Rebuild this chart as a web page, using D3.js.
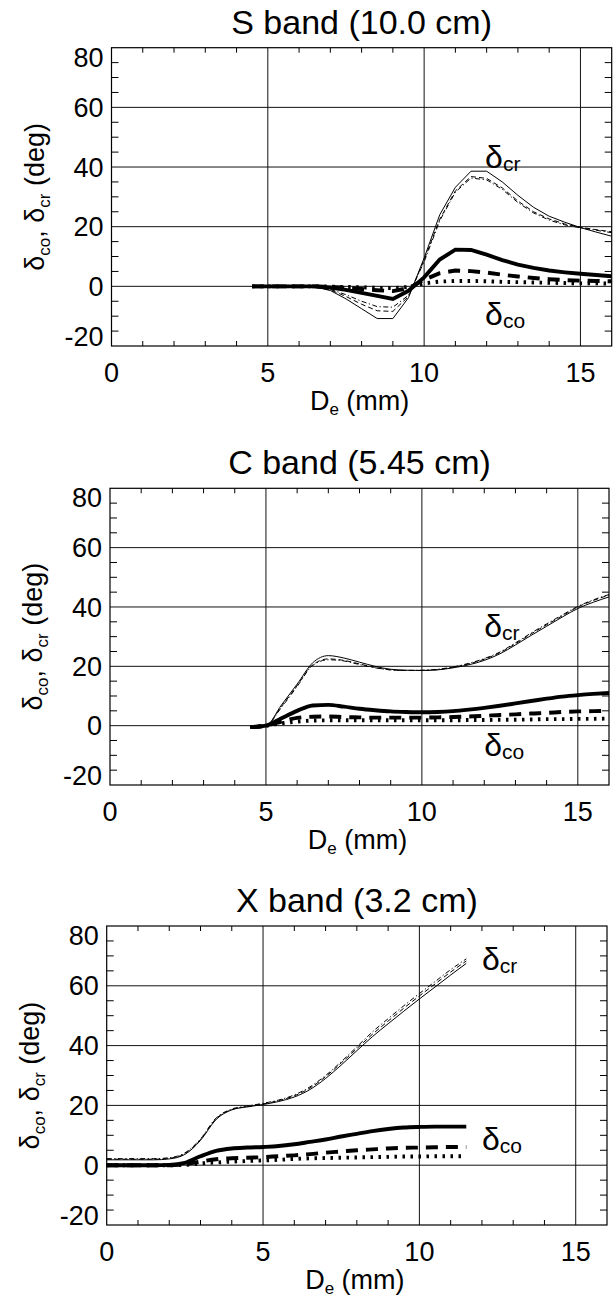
<!DOCTYPE html>
<html>
<head>
<meta charset="utf-8">
<script src="https://cdn.jsdelivr.net/npm/d3@7"></script>
<style>
  body { margin: 0; background: #fff; }
  text { font-family: "Liberation Sans", Arial, Helvetica, sans-serif; fill: #000; }
</style>
</head>
<body>
<script>
// ---- data ----
var bandTitles = ["S band (10.0 cm)", "C band (5.45 cm)", "X band (3.2 cm)"];
var xTicks = [0, 5, 10, 15];
var yTicks = [-20, 0, 20, 40, 60, 80];

// S band
var diamS = [4.5,5,5.5,6,6.5,7,7.5,8,8.5,9,9.5,10,10.5,11,11.5,12,12.5,13,13.5,14,14.5,15,15.5,16];
var crSolidS = [0,0,0,0,-0.2,-1.4,-4.2,-7.5,-10.8,-10.8,-3.8,9.5,24,33.2,38.6,38.6,35,30.5,26.5,23.5,21.5,19.7,18.2,16.8];
var crDashS = [0,0,0,0,-0.2,-1.2,-3.4,-6,-8.2,-8.4,-3.4,8.8,22.5,32,36.8,36.2,33,28.6,25,22.6,20.9,19.8,19,18.3];
var crDotDashS = [0,0,0,0,-0.1,-1,-2.8,-5,-6.8,-7,-3,8.2,22,31.6,36.3,35.7,32.5,28.1,24.6,22.2,20.6,19.6,18.8,18];
var coSolidS = [0,0,0,0,0,-0.4,-1.2,-2.2,-3.2,-4.2,-1.5,3,9,12.3,12.2,10.6,8.8,7.3,6.2,5.3,4.7,4.2,3.8,3.4];
var coDashS = [0,0,0,0,0,-0.2,-0.5,-0.9,-1.3,-1.6,-0.6,2.2,4.4,5.3,5.1,4.6,3.9,3.3,2.8,2.4,2.1,1.9,1.8,1.7];
var coDotS = [0,0,0,0,0,-0.1,-0.2,-0.3,-0.5,-0.6,-0.2,1,1.6,1.8,1.8,1.7,1.5,1.4,1.3,1.2,1.1,1,1,0.9];

// C band
var diamC = [4.5,5,5.5,6,6.5,7,7.5,8,8.5,9,9.5,10,10.5,11,11.5,12,12.5,13,13.5,14,14.5,15,15.5,16];
var crSolidC = [-0.5,0,7,14,21.2,23.6,22.8,21.4,20,19,18.7,18.6,18.8,19.5,20.5,22,24.2,27.2,30.4,33.5,36.6,39.5,41.6,43.4];
var crDashC = [-0.5,0,6.5,13.5,20.5,22.5,22,20.8,19.6,18.8,18.6,18.6,18.9,19.7,20.8,22.4,24.6,27.6,30.9,34,37,40,42.2,44];
var crDotDashC = [-0.5,0,6.2,13.2,20.3,22.2,21.8,20.6,19.5,18.8,18.6,18.7,19,19.8,21,22.6,24.8,27.9,31.2,34.3,37.3,40.2,42.4,44.2];
var coSolidC = [-0.5,0,2.5,5,6.8,7,6.4,5.7,5.2,4.8,4.6,4.5,4.6,4.9,5.4,6,6.7,7.5,8.3,9.1,9.8,10.3,10.7,11];
var coDashC = [-0.5,0,1.4,2.6,3,3.1,2.9,2.8,2.7,2.7,2.7,2.7,2.8,2.9,3.1,3.3,3.6,3.8,4.1,4.3,4.6,4.8,4.9,5];
var coDotC = [-0.5,0,0.8,1.4,1.7,1.8,1.8,1.8,1.8,1.8,1.8,1.8,1.8,1.8,1.9,1.9,2,2,2.1,2.2,2.2,2.3,2.3,2.4];

// X band
var diamX = [0,0.5,1,1.5,2,2.5,3,3.5,4,4.5,5,5.5,6,6.5,7,7.5,8,8.5,9,9.5,10,10.5,11,11.5];
var crSolidX = [1.8,1.8,1.8,1.8,2.1,3.6,8.3,15.3,18.5,19.5,20.3,21.3,22.8,25.3,29,33.5,38.3,43,47.3,51.5,55.6,59.6,63.6,67.5];
var crDashX = [2,2,2,2,2.3,3.9,8.6,15.6,18.6,19.6,20.5,21.6,23.2,25.8,29.6,34.2,39,43.8,48.2,52.5,56.6,60.6,64.6,68.3];
var crDotDashX = [2.2,2.2,2.2,2.2,2.5,4.1,8.8,15.8,18.8,19.8,20.7,21.8,23.5,26.2,30,34.6,39.6,44.6,49,53.3,57.4,61.4,65.4,69];
var coSolidX = [0,0,0,0,0.1,0.8,3,4.8,5.6,5.9,6.1,6.4,7,7.8,8.6,9.6,10.5,11.4,12.1,12.6,12.8,12.9,12.9,12.9];
var coDashX = [0,0,0,0,0,0.3,1.2,2,2.3,2.5,2.7,3,3.3,3.7,4.2,4.6,5,5.3,5.6,5.8,5.9,6,6.1,6.1];
var coDotX = [0,0,0,0,0,0.1,0.6,0.9,1.2,1.4,1.6,1.8,2.1,2.3,2.4,2.5,2.6,2.7,2.8,2.9,2.9,3,3,3];

// label anchors (diameter, degrees) for the delta annotations
var crLabelAt = [[11.95, 39.6], [12.0, 29.8], [12.0, 65.2]];
var coLabelAt = [[11.95, -13.1], [12.0, -10.1], [12.0, 5.0]];

// ---- layout ----
var width = 616, height = 1300;
var boxes = [
  {left: 111.5, right: 611.7, top: 47.7, bottom: 346},
  {left: 110, right: 609, top: 488.3, bottom: 785},
  {left: 106.7, right: 607, top: 926, bottom: 1225}
];

var panels = [
  {x: diamS, series: [crSolidS, crDashS, crDotDashS, coSolidS, coDashS, coDotS]},
  {x: diamC, series: [crSolidC, crDashC, crDotDashC, coSolidC, coDashC, coDotC]},
  {x: diamX, series: [crSolidX, crDashX, crDotDashX, coSolidX, coDashX, coDotX]}
];

// line styles: thin solid / thin dashed / thin dash-dot / thick solid / thick dashed / thick dotted
var styles = [
  {w: 1, dash: null},
  {w: 1, dash: "5,3"},
  {w: 1, dash: "5,2.5,1.2,2.5"},
  {w: 3.9, dash: null},
  {w: 3.9, dash: "12,8"},
  {w: 3.9, dash: "2.5,5.5"}
];

var svg = d3.select("body").append("svg")
    .attr("width", width)
    .attr("height", height);

svg.append("rect")
    .attr("width", width)
    .attr("height", height)
    .attr("fill", "#fff");

boxes.forEach(function(b, i) {
  var x = d3.scaleLinear().domain([0, 16]).range([b.left, b.right]);
  var y = d3.scaleLinear().domain([-20, 80]).range([b.bottom, b.top]);
  var g = svg.append("g");

  // grid lines at major ticks
  g.selectAll(".vgrid").data([5, 10, 15]).enter().append("line")
      .attr("x1", d => x(d)).attr("x2", d => x(d))
      .attr("y1", b.top).attr("y2", b.bottom)
      .style("stroke", "#111").style("stroke-width", 1);
  g.selectAll(".hgrid").data([0, 20, 40, 60]).enter().append("line")
      .attr("x1", b.left).attr("x2", b.right)
      .attr("y1", d => y(d)).attr("y2", d => y(d))
      .style("stroke", "#111").style("stroke-width", 1);

  // minor ticks
  var xm = d3.range(1, 16).filter(d => d % 5 != 0);
  g.selectAll(".xmb").data(xm).enter().append("line")
      .attr("x1", d => x(d)).attr("x2", d => x(d))
      .attr("y1", b.bottom).attr("y2", b.bottom - 5)
      .style("stroke", "#000");
  g.selectAll(".xmt").data(xm).enter().append("line")
      .attr("x1", d => x(d)).attr("x2", d => x(d))
      .attr("y1", b.top).attr("y2", b.top + 5)
      .style("stroke", "#000");
  var ym = d3.range(-15, 80, 5).filter(d => d % 20 != 0);
  g.selectAll(".yml").data(ym).enter().append("line")
      .attr("x1", b.left).attr("x2", b.left + 7)
      .attr("y1", d => y(d)).attr("y2", d => y(d))
      .style("stroke", "#000");
  g.selectAll(".ymr").data(ym).enter().append("line")
      .attr("x1", b.right).attr("x2", b.right - 7)
      .attr("y1", d => y(d)).attr("y2", d => y(d))
      .style("stroke", "#000");

  // frame
  g.append("rect")
      .attr("x", b.left).attr("y", b.top)
      .attr("width", b.right - b.left).attr("height", b.bottom - b.top)
      .attr("fill", "none").style("stroke", "#000").style("stroke-width", 1.2);

  // curves
  var p = panels[i];
  var line = d3.line()
      .x((d, k) => x(p.x[k]))
      .y(d => y(d))
      .curve(i == 0 ? d3.curveLinear : d3.curveMonotoneX);
  p.series.forEach(function(s, k) {
    g.append("path")
        .attr("d", line(s))
        .attr("fill", "none")
        .style("stroke", "#000")
        .style("stroke-width", styles[k].w)
        .style("stroke-dasharray", styles[k].dash);
  });

  // tick labels
  g.selectAll(".xl").data(xTicks).enter().append("text")
      .attr("x", d => x(d)).attr("y", b.bottom + 36)
      .attr("text-anchor", "middle")
      .style("font-size", "27px")
      .text(d => d);
  g.selectAll(".yl").data(yTicks).enter().append("text")
      .attr("x", b.left - 8)
      .attr("y", function(d) {
        if (d == 80) return b.top + 19;
        if (d == -20) return b.bottom;
        return y(d) + 9.6;
      })
      .attr("text-anchor", "end")
      .style("font-size", "27px")
      .text(d => d);

  // title
  g.append("text")
      .attr("x", (b.left + b.right) / 2)
      .attr("y", b.top - 14)
      .attr("text-anchor", "middle")
      .style("font-size", "34px")
      .text(bandTitles[i]);

  // x axis title
  var xt = g.append("text")
      .attr("x", (b.left + b.right) / 2 - 2)
      .attr("y", b.bottom + 64)
      .attr("text-anchor", "middle")
      .style("font-size", "27px");
  xt.append("tspan").text("D");
  xt.append("tspan").attr("dy", 5).style("font-size", "17px").text("e");
  xt.append("tspan").attr("dy", -5).text(" (mm)");

  // y axis title
  var yt = g.append("text")
      .attr("transform", "translate(" + (b.left - 68) + "," + ((b.top + b.bottom) / 2) + ") rotate(-90)")
      .attr("text-anchor", "middle")
      .style("font-size", "27px");
  yt.append("tspan").text("\u03b4");
  yt.append("tspan").attr("dy", 6).style("font-size", "17px").text("co");
  yt.append("tspan").attr("dy", -6).text(", \u03b4");
  yt.append("tspan").attr("dy", 6).style("font-size", "17px").text("cr");
  yt.append("tspan").attr("dy", -6).text(" (deg)");

  // delta annotations
  [[crLabelAt[i], "cr"], [coLabelAt[i], "co"]].forEach(function(a) {
    var t = g.append("text")
        .attr("x", x(a[0][0])).attr("y", y(a[0][1]))
        .style("font-size", "32px");
    t.append("tspan").text("\u03b4");
    t.append("tspan").attr("dy", 3).style("font-size", "21px").text(a[1]);
  });
});
</script>
</body>
</html>
